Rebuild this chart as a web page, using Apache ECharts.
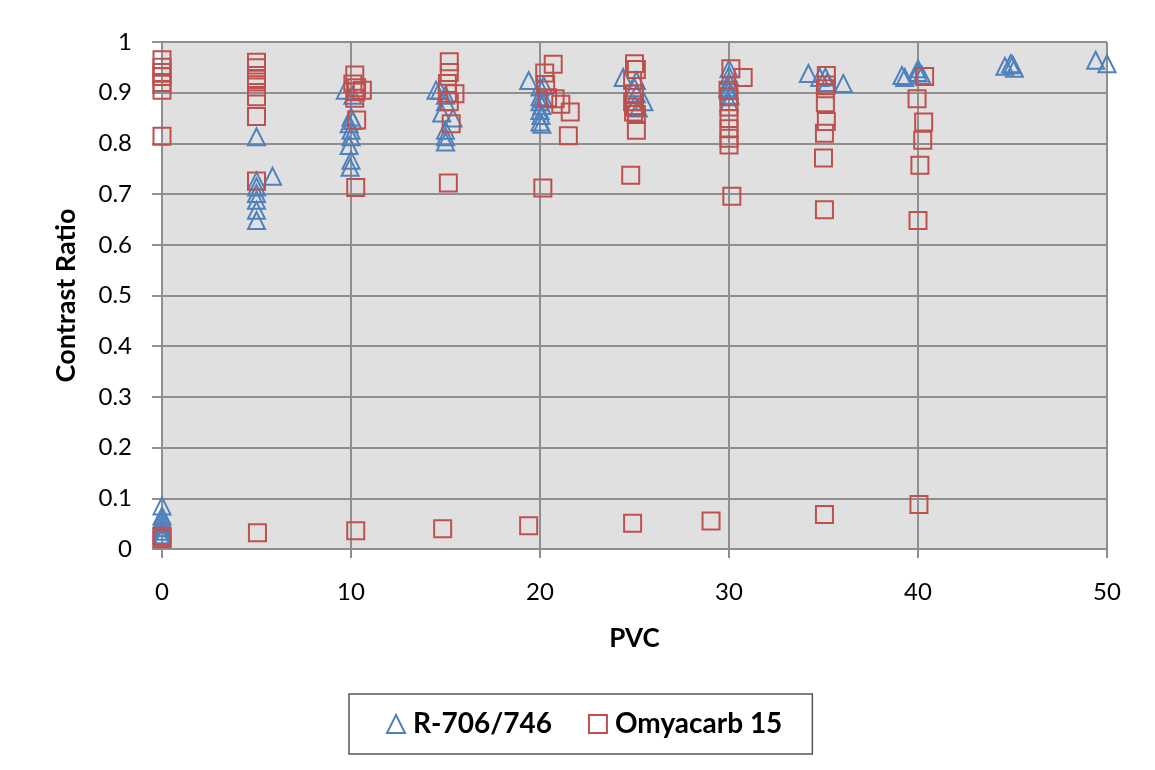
<!DOCTYPE html>
<html>
<head>
<meta charset="utf-8">
<script src="https://cdn.jsdelivr.net/npm/echarts@6/dist/echarts.min.js"></script>
<style>
html,body{margin:0;padding:0;background:#fff;}
#chart{width:1155px;height:770px;}
</style>
</head>
<body>
<div id="chart"></div>
<script>
// ---- data ----
const seriesNames = ['R-706/746', 'Omyacarb 15'];
const xTicks = [0, 10, 20, 30, 40, 50];
const yTicks = [0, 0.1, 0.2, 0.3, 0.4, 0.5, 0.6, 0.7, 0.8, 0.9, 1];

const r706 = [
  [0,0.085],[0,0.065],[0,0.058],[0,0.05],[0,0.042],[0,0.035],[0,0.028],[0,0.022],
  [5,0.813],[5,0.726],[5,0.714],[5,0.701],[5,0.688],[5,0.668],[5,0.648],[5.85,0.735],
  [9.7,0.905],[10.1,0.895],[10,0.852],[10.1,0.845],[9.9,0.839],[10,0.826],[10,0.813],[9.9,0.796],[10,0.767],[9.95,0.753],
  [14.5,0.905],[14.7,0.905],[15,0.895],[15,0.882],[14.8,0.86],[15.4,0.85],[15,0.826],[15,0.813],[15,0.803],
  [19.4,0.924],[20,0.911],[20.2,0.914],[20,0.892],[20.2,0.888],[20,0.882],[20.1,0.875],[20,0.865],[20.05,0.855],[20,0.842],[20.1,0.838],
  [24.4,0.93],[25.1,0.924],[25,0.91],[25.1,0.898],[25.5,0.882],[25,0.875],[25.2,0.87],
  [30,0.947],[30,0.934],[30,0.921],[29.95,0.91],[30,0.905],[30.05,0.895],[30,0.882],
  [34.2,0.938],[34.8,0.93],[35.1,0.931],[35.2,0.92],[36.05,0.918],
  [39.15,0.934],[39.3,0.93],[40,0.947],[40,0.94],[40.2,0.935],
  [44.6,0.952],[44.9,0.957],[45,0.955],[45.1,0.948],
  [49.4,0.964],[50,0.957]
];

const omyacarb = [
  [0,0.965],[0,0.95],[0,0.94],[0,0.932],[0,0.92],[0,0.905],[0,0.814],[0,0.025],[0,0.02],
  [5,0.96],[5,0.949],[5,0.934],[5,0.928],[5,0.921],[5,0.911],[5,0.892],[5,0.853],[5,0.726],[5.05,0.032],
  [10.2,0.935],[10.1,0.917],[10.3,0.91],[10.6,0.905],[10.25,0.902],[10.2,0.889],[10.3,0.846],[10.25,0.713],[10.25,0.036],
  [15.2,0.961],[15.2,0.94],[15.1,0.918],[15.1,0.899],[15.5,0.898],[15.2,0.882],[15.3,0.839],[15.15,0.722],[14.85,0.04],
  [20.7,0.956],[20.25,0.939],[20.3,0.916],[20.4,0.89],[20.8,0.888],[21.1,0.877],[21.6,0.862],[21.5,0.815],[20.15,0.712],[19.4,0.046],
  [25,0.957],[25.1,0.946],[24.9,0.924],[25,0.898],[24.9,0.882],[25,0.872],[24.95,0.862],[25.1,0.857],[25.1,0.826],[24.8,0.737],[24.9,0.051],
  [30.1,0.947],[30.75,0.93],[29.95,0.905],[30,0.892],[30,0.872],[30,0.849],[30,0.829],[30,0.81],[30,0.797],[30.15,0.696],[29.05,0.055],
  [35.15,0.934],[35.15,0.915],[35.1,0.908],[35.1,0.88],[35.15,0.843],[35.05,0.82],[35,0.771],[35.05,0.669],[35.05,0.068],
  [40.35,0.932],[39.95,0.888],[40.3,0.842],[40.25,0.806],[40.1,0.757],[40,0.648],[40.05,0.088]
];

// ---- chart ----
const FONT = 'Lato, "Open Sans", sans-serif';
const GRID_COLOR = '#8f8f8f';
const chart = echarts.init(document.getElementById('chart'), null, {renderer: 'canvas'});

const option = {
  backgroundColor: '#ffffff',
  animation: false,
  textStyle: {fontFamily: FONT},
  grid: {left: 162, top: 42, width: 945, height: 507, show: true, backgroundColor: '#e0e0e0', borderWidth: 0},
  xAxis: {
    type: 'value', min: xTicks[0], max: xTicks[xTicks.length - 1], interval: 10,
    name: 'PVC', nameLocation: 'middle', nameGap: 77,
    nameTextStyle: {fontFamily: FONT, fontSize: 26, fontWeight: 'bold', color: '#000'},
    axisLine: {show: true, onZero: false, lineStyle: {color: GRID_COLOR, width: 2}},
    axisTick: {show: true, length: 9, lineStyle: {color: GRID_COLOR, width: 2}},
    axisLabel: {margin: 31, fontFamily: FONT, fontSize: 24, color: '#000'},
    splitLine: {show: true, lineStyle: {color: GRID_COLOR, width: 2}}
  },
  yAxis: {
    type: 'value', min: yTicks[0], max: yTicks[yTicks.length - 1], interval: 0.1,
    name: 'Contrast Ratio', nameLocation: 'middle', nameGap: 82, nameRotate: 90,
    nameTextStyle: {fontFamily: FONT, fontSize: 27, fontWeight: 'bold', color: '#000'},
    axisLine: {show: true, onZero: false, lineStyle: {color: GRID_COLOR, width: 2}},
    axisTick: {show: true, length: 10, lineStyle: {color: GRID_COLOR, width: 2}},
    axisLabel: {margin: 30, fontFamily: FONT, fontSize: 24, color: '#000',
      formatter: v => String(Math.round(v * 10) / 10)},
    splitLine: {show: true, lineStyle: {color: GRID_COLOR, width: 2}}
  },
  legend: {
    left: 349, top: 694,
    padding: [15, 30, 15, 37],
    borderColor: '#555', borderWidth: 1.5,
    backgroundColor: '#fff',
    itemWidth: 18, itemHeight: 18, itemGap: 36,
    textStyle: {fontFamily: FONT, fontSize: 28, fontWeight: 'bold', color: '#000', lineHeight: 30, padding: [0, 0, 0, 3]},
    data: [
      {name: seriesNames[0], icon: 'triangle', itemStyle: {color: 'rgba(0,0,0,0)', borderColor: '#4f81bd', borderWidth: 2}},
      {name: seriesNames[1], icon: 'rect', itemStyle: {color: 'rgba(0,0,0,0)', borderColor: '#c0504d', borderWidth: 2}}
    ]
  },
  series: [
    {
      name: seriesNames[0], type: 'scatter', data: r706,
      symbol: 'triangle', symbolSize: 17,
      itemStyle: {color: 'rgba(0,0,0,0)', borderColor: '#4f81bd', borderWidth: 2, opacity: 1},
      emphasis: {disabled: true}
    },
    {
      name: seriesNames[1], type: 'scatter', data: omyacarb,
      symbol: 'rect', symbolSize: 17,
      itemStyle: {color: 'rgba(0,0,0,0)', borderColor: '#c0504d', borderWidth: 2, opacity: 1},
      emphasis: {disabled: true}
    }
  ]
};
chart.setOption(option);
</script>
</body>
</html>
